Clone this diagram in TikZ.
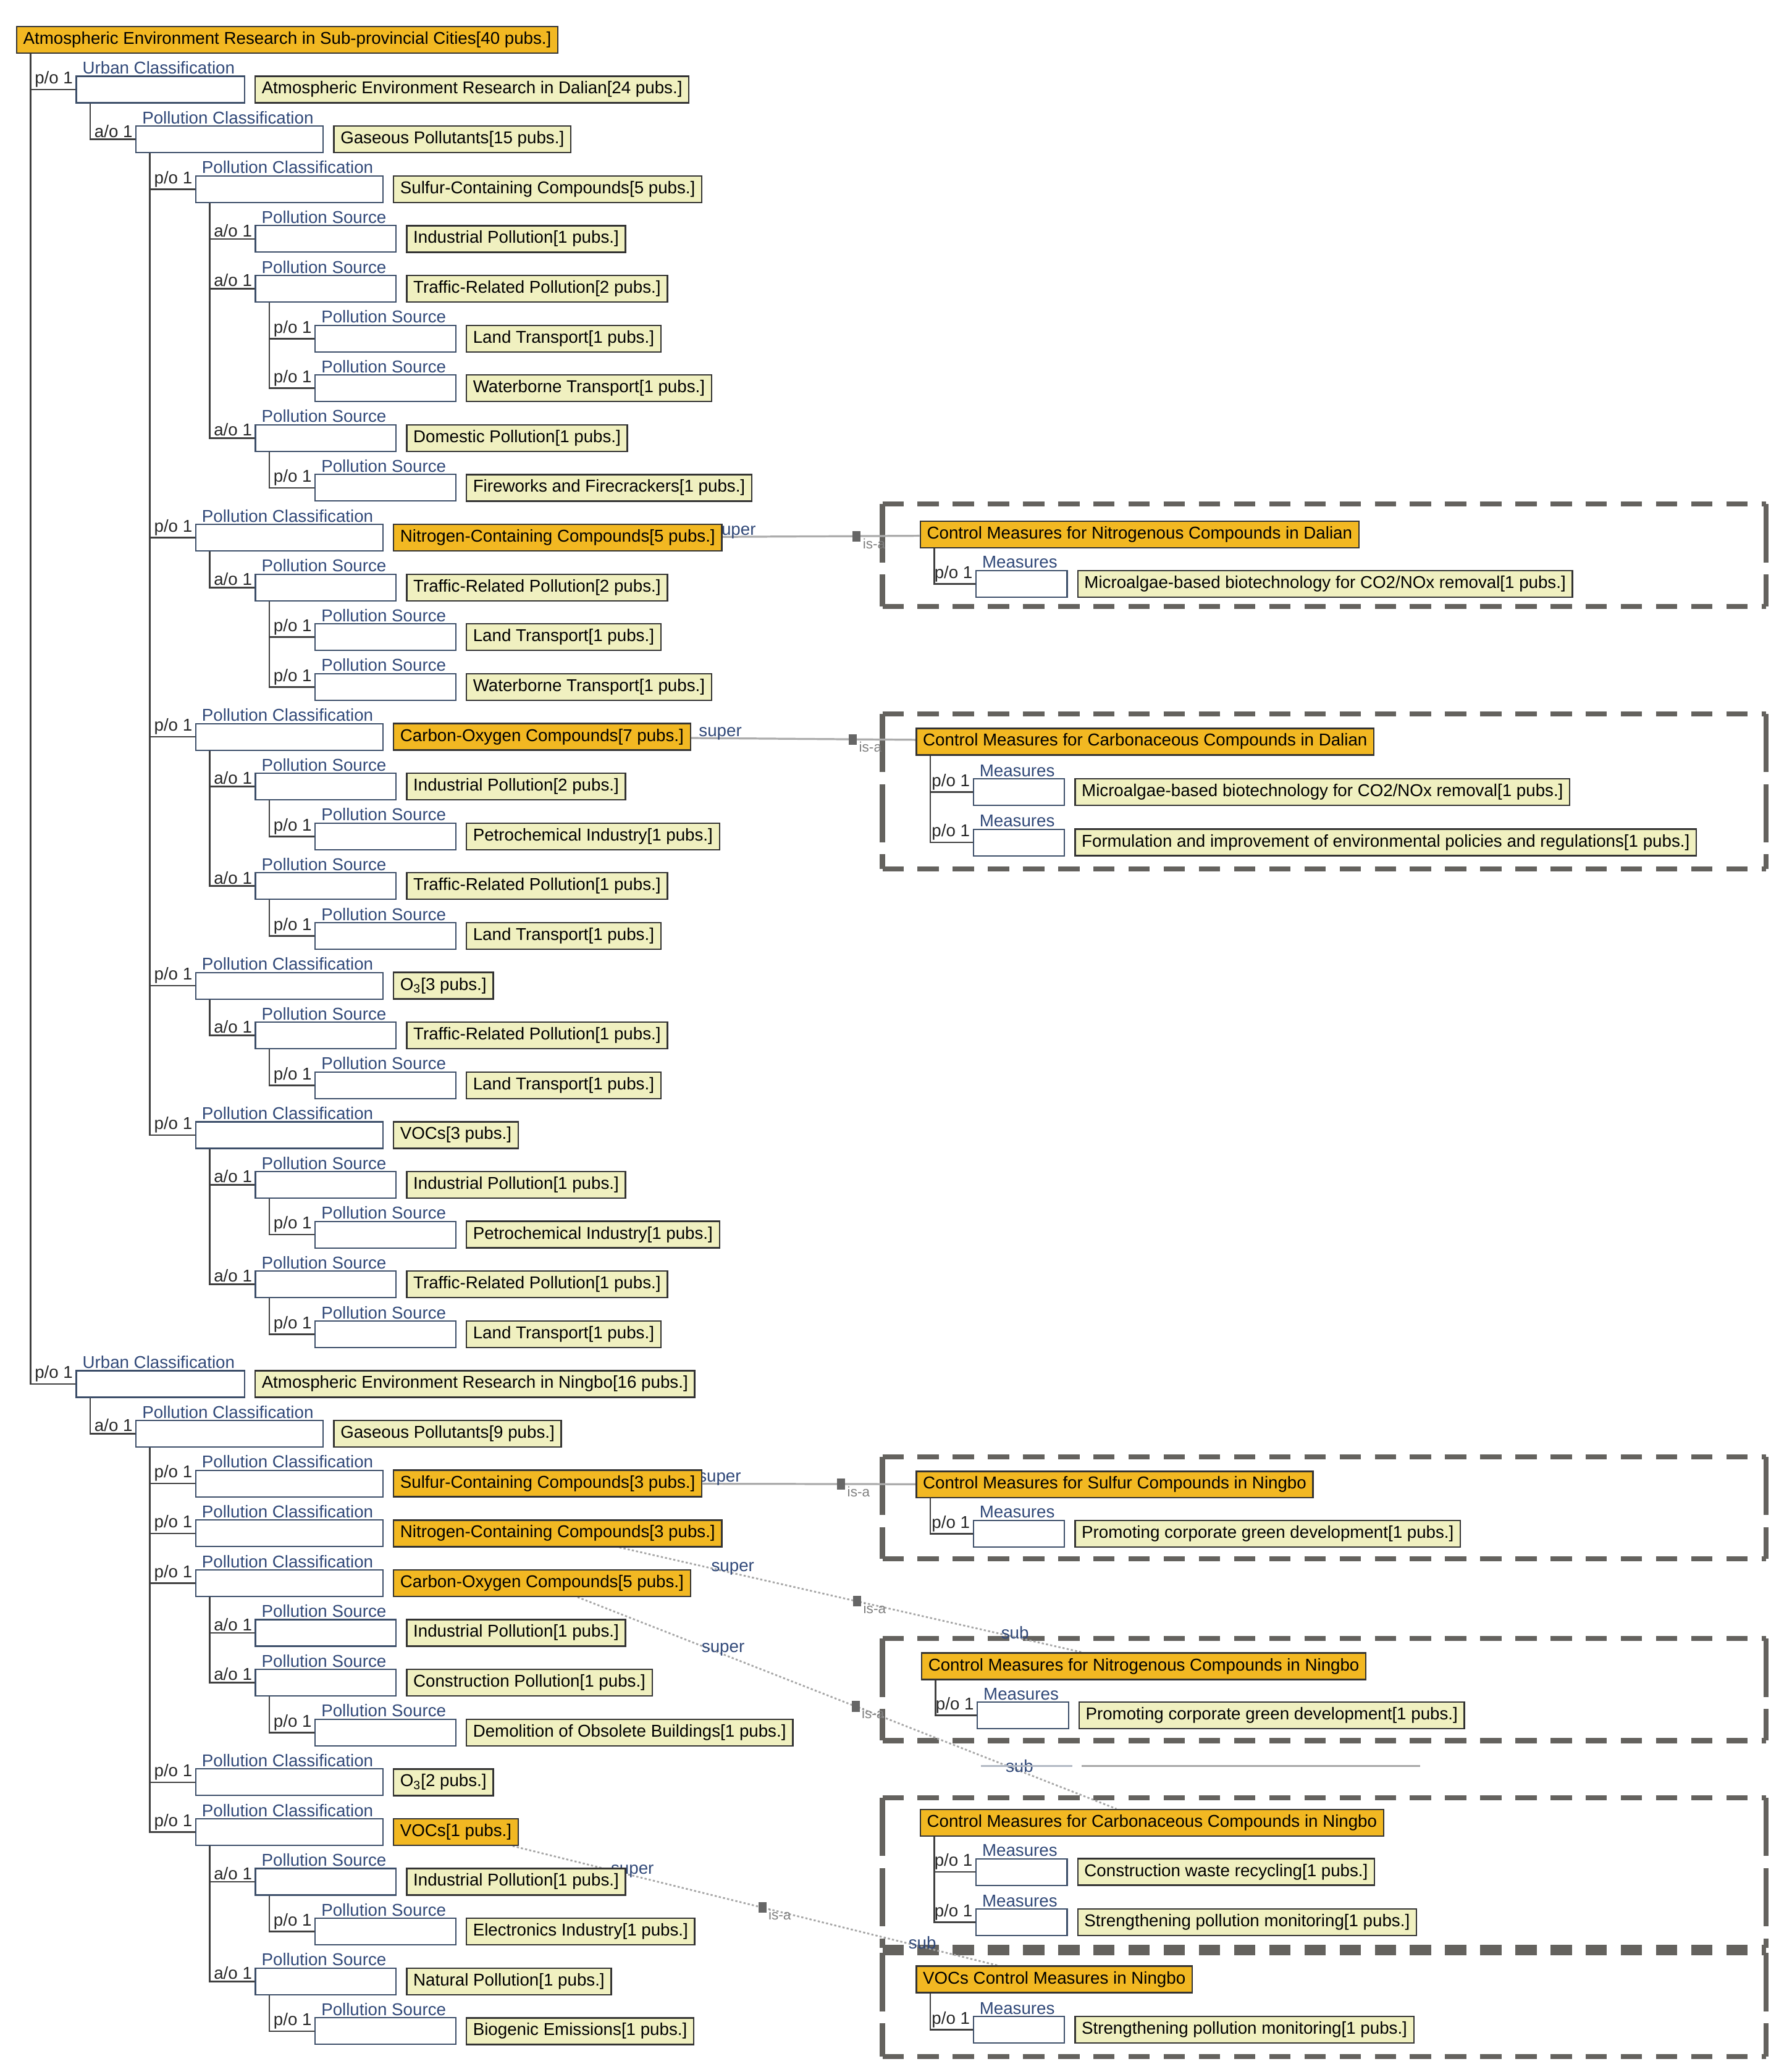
\documentclass[tikz,border=0pt]{standalone}
\usepackage{fontspec}
\setmainfont{Liberation Sans}
\usetikzlibrary{positioning}
\usetikzlibrary{backgrounds}
\definecolor{hotfill}{RGB}{242,184,34}
\definecolor{labfill}{RGB}{240,240,192}
\definecolor{rolefg}{RGB}{48,72,120}
\definecolor{roleline}{RGB}{60,78,105}
\definecolor{framegray}{RGB}{100,98,94}
\newcommand{\treefont}{\fontsize{12.9}{14}\selectfont}
\tikzset{
  lab/.style={draw=black!80, line width=1.1pt, fill=labfill, minimum height=20pt,
    inner xsep=5pt, inner ysep=0pt, text height=9pt, text depth=2.5pt, font=\treefont},
  hot/.style={lab, fill=hotfill},
  rolebox/.style={draw=roleline, line width=1pt, fill=white, minimum height=20pt,
    inner xsep=6pt, inner ysep=0pt, text height=9pt, text depth=2.5pt, font=\treefont, anchor=west},
  rolelab/.style={text=rolefg, font=\treefont, anchor=south west, inner xsep=5pt, inner ysep=1pt},
  rellab/.style={text=black!85, font=\treefont, anchor=south east, inner xsep=1.5pt, inner ysep=1pt},
  tree/.style={draw=black!75, line width=1.2pt},
  framehz/.style={draw=framegray, line width=3.8pt, dash pattern=on 16pt off 10.5pt},
  framevt/.style={draw=framegray, line width=3.8pt, dash pattern=on 44pt off 9pt},
  isalink/.style={draw=gray!65, line width=1.5pt},
  isadot/.style={draw=gray!70, line width=1.3pt, dash pattern=on 1.6pt off 1.6pt},
  superlab/.style={text=rolefg, font=\treefont, anchor=south, inner sep=1pt, yshift=-3pt},
  isamark/.style={fill=black!60, minimum width=6pt, minimum height=8pt, inner sep=0pt},
  isalab/.style={text=gray, font=\fontsize{10.5}{11}\selectfont, anchor=north west, xshift=3pt, inner sep=1pt},
}
% name, parent, x, y, relation, role, style, text
\newcommand{\pubrow}[8]{%
  \node[rolebox] (#1) at (#3,#4) {\phantom{#6}};
  \node[rolelab] (#1r) at (#1.north west) {#6};
  \node[#7, right=7pt of #1] (#1t) {#8};
  \draw[tree] ([xshift=11pt]#2.south west) |- node[rellab, pos=1] {#5} (#1.west);
}
% top, bottom
\newcommand{\ctrlframe}[2]{%
  \draw[framehz] (665,#1) -- (1331,#1) (665,#2) -- (1331,#2);
  \draw[framevt] (665,#1) -- (665,#2) (1331,#1) -- (1331,#2);
}

\begin{document}
\begin{tikzpicture}[x=1pt, y=-1pt]
\useasboundingbox (0,0) rectangle (1350,1561.8);

\begin{scope}[on background layer]
\ctrlframe{380}{457}
\ctrlframe{538}{655}
\ctrlframe{1098}{1175}
\ctrlframe{1235}{1312}
\ctrlframe{1355}{1468}
\ctrlframe{1472}{1550}
\end{scope}

\node[hot, anchor=west] (root) at (12,30) {Atmospheric Environment Research in Sub-provincial Cities[40 pubs.]};

%%%%%%%%%%%%%%%%%%%%%%%%%%%%%%%%%%%%%%%%%%%%%%%%%%%%%%%%%%%%%% Dalian
\pubrow{u1}{root}{57}{67.5}{p/o 1}{Urban Classification}{lab}{Atmospheric Environment Research in Dalian[24 pubs.]}
\pubrow{g1}{u1}{102}{105.1}{a/o 1}{Pollution Classification}{lab}{Gaseous Pollutants[15 pubs.]}

\pubrow{s1}{g1}{147}{142.6}{p/o 1}{Pollution Classification}{lab}{Sulfur-Containing Compounds[5 pubs.]}
\pubrow{s1a}{s1}{192}{180.1}{a/o 1}{Pollution Source}{lab}{Industrial Pollution[1 pubs.]}
\pubrow{s1b}{s1}{192}{217.6}{a/o 1}{Pollution Source}{lab}{Traffic-Related Pollution[2 pubs.]}
\pubrow{s1ba}{s1b}{237}{255.2}{p/o 1}{Pollution Source}{lab}{Land Transport[1 pubs.]}
\pubrow{s1bb}{s1b}{237}{292.7}{p/o 1}{Pollution Source}{lab}{Waterborne Transport[1 pubs.]}
\pubrow{s1c}{s1}{192}{330.2}{a/o 1}{Pollution Source}{lab}{Domestic Pollution[1 pubs.]}
\pubrow{s1ca}{s1c}{237}{367.7}{p/o 1}{Pollution Source}{lab}{Fireworks and Firecrackers[1 pubs.]}

\pubrow{n1}{g1}{147}{405.3}{p/o 1}{Pollution Classification}{hot}{Nitrogen-Containing Compounds[5 pubs.]}
\pubrow{n1a}{n1}{192}{442.8}{a/o 1}{Pollution Source}{lab}{Traffic-Related Pollution[2 pubs.]}
\pubrow{n1aa}{n1a}{237}{480.3}{p/o 1}{Pollution Source}{lab}{Land Transport[1 pubs.]}
\pubrow{n1ab}{n1a}{237}{517.8}{p/o 1}{Pollution Source}{lab}{Waterborne Transport[1 pubs.]}

\pubrow{c1}{g1}{147}{555.4}{p/o 1}{Pollution Classification}{hot}{Carbon-Oxygen Compounds[7 pubs.]}
\pubrow{c1a}{c1}{192}{592.9}{a/o 1}{Pollution Source}{lab}{Industrial Pollution[2 pubs.]}
\pubrow{c1aa}{c1a}{237}{630.4}{p/o 1}{Pollution Source}{lab}{Petrochemical Industry[1 pubs.]}
\pubrow{c1b}{c1}{192}{667.9}{a/o 1}{Pollution Source}{lab}{Traffic-Related Pollution[1 pubs.]}
\pubrow{c1ba}{c1b}{237}{705.5}{p/o 1}{Pollution Source}{lab}{Land Transport[1 pubs.]}

\pubrow{o1}{g1}{147}{743}{p/o 1}{Pollution Classification}{lab}{O\textsubscript{3}[3 pubs.]}
\pubrow{o1a}{o1}{192}{780.5}{a/o 1}{Pollution Source}{lab}{Traffic-Related Pollution[1 pubs.]}
\pubrow{o1aa}{o1a}{237}{818}{p/o 1}{Pollution Source}{lab}{Land Transport[1 pubs.]}

\pubrow{v1}{g1}{147}{855.6}{p/o 1}{Pollution Classification}{lab}{VOCs[3 pubs.]}
\pubrow{v1a}{v1}{192}{893.1}{a/o 1}{Pollution Source}{lab}{Industrial Pollution[1 pubs.]}
\pubrow{v1aa}{v1a}{237}{930.6}{p/o 1}{Pollution Source}{lab}{Petrochemical Industry[1 pubs.]}
\pubrow{v1b}{v1}{192}{968.1}{a/o 1}{Pollution Source}{lab}{Traffic-Related Pollution[1 pubs.]}
\pubrow{v1ba}{v1b}{237}{1005.7}{p/o 1}{Pollution Source}{lab}{Land Transport[1 pubs.]}

%%%%%%%%%%%%%%%%%%%%%%%%%%%%%%%%%%%%%%%%%%%%%%%%%%%%%%%%%%%%%% Ningbo
\pubrow{u2}{root}{57}{1043.2}{p/o 1}{Urban Classification}{lab}{Atmospheric Environment Research in Ningbo[16 pubs.]}
\pubrow{g2}{u2}{102}{1080.7}{a/o 1}{Pollution Classification}{lab}{Gaseous Pollutants[9 pubs.]}
\pubrow{s2}{g2}{147}{1118.2}{p/o 1}{Pollution Classification}{hot}{Sulfur-Containing Compounds[3 pubs.]}
\pubrow{n2}{g2}{147}{1155.8}{p/o 1}{Pollution Classification}{hot}{Nitrogen-Containing Compounds[3 pubs.]}

\pubrow{c2}{g2}{147}{1193.3}{p/o 1}{Pollution Classification}{hot}{Carbon-Oxygen Compounds[5 pubs.]}
\pubrow{c2a}{c2}{192}{1230.8}{a/o 1}{Pollution Source}{lab}{Industrial Pollution[1 pubs.]}
\pubrow{c2b}{c2}{192}{1268.3}{a/o 1}{Pollution Source}{lab}{Construction Pollution[1 pubs.]}
\pubrow{c2ba}{c2b}{237}{1305.9}{p/o 1}{Pollution Source}{lab}{Demolition of Obsolete Buildings[1 pubs.]}

\pubrow{o2}{g2}{147}{1343.4}{p/o 1}{Pollution Classification}{lab}{O\textsubscript{3}[2 pubs.]}

\pubrow{v2}{g2}{147}{1380.9}{p/o 1}{Pollution Classification}{hot}{VOCs[1 pubs.]}
\pubrow{v2a}{v2}{192}{1418.4}{a/o 1}{Pollution Source}{lab}{Industrial Pollution[1 pubs.]}
\pubrow{v2aa}{v2a}{237}{1456}{p/o 1}{Pollution Source}{lab}{Electronics Industry[1 pubs.]}
\pubrow{v2b}{v2}{192}{1493.5}{a/o 1}{Pollution Source}{lab}{Natural Pollution[1 pubs.]}
\pubrow{v2ba}{v2b}{237}{1531}{p/o 1}{Pollution Source}{lab}{Biogenic Emissions[1 pubs.]}

%%%%%%%%%%%%%%%%%%%%%%%%%%%%%%%%%%%%%%%%%%%%%%%%%%%%%%%%%%%%%% control measures
\node[hot, anchor=west] (cmA) at (693,403) {Control Measures for Nitrogenous Compounds in Dalian};
\pubrow{mA1}{cmA}{735}{440}{p/o 1}{Measures}{lab}{Microalgae-based biotechnology for CO2/NOx removal[1 pubs.]}

\node[hot, anchor=west] (cmB) at (690,559) {Control Measures for Carbonaceous Compounds in Dalian};
\pubrow{mB1}{cmB}{733}{597}{p/o 1}{Measures}{lab}{Microalgae-based biotechnology for CO2/NOx removal[1 pubs.]}
\pubrow{mB2}{cmB}{733}{635}{p/o 1}{Measures}{lab}{Formulation and improvement of environmental policies and regulations[1 pubs.]}

\node[hot, anchor=west] (cmC) at (690,1119) {Control Measures for Sulfur Compounds in Ningbo};
\pubrow{mC1}{cmC}{733}{1156}{p/o 1}{Measures}{lab}{Promoting corporate green development[1 pubs.]}

\node[hot, anchor=west] (cmD) at (694,1256) {Control Measures for Nitrogenous Compounds in Ningbo};
\pubrow{mD1}{cmD}{736}{1293}{p/o 1}{Measures}{lab}{Promoting corporate green development[1 pubs.]}

\node[hot, anchor=west] (cmE) at (693,1374) {Control Measures for Carbonaceous Compounds in Ningbo};
\pubrow{mE1}{cmE}{735}{1411}{p/o 1}{Measures}{lab}{Construction waste recycling[1 pubs.]}
\pubrow{mE2}{cmE}{735}{1449}{p/o 1}{Measures}{lab}{Strengthening pollution monitoring[1 pubs.]}

\node[hot, anchor=west] (cmF) at (690,1492) {VOCs Control Measures in Ningbo};
\pubrow{mF1}{cmF}{733}{1530}{p/o 1}{Measures}{lab}{Strengthening pollution monitoring[1 pubs.]}

\draw[draw=roleline!40, line width=1.5pt] (739,1331) -- (808,1331);
\draw[draw=gray!70, line width=1.5pt] (815,1331) -- (1070,1331);

%%%%%%%%%%%%%%%%%%%%%%%%%%%%%%%%%%%%%%%%%%%%%%%%%%%%%%%%%%%%%% is-a links
\begin{scope}[on background layer]
\draw[isalink] (n1t) -- node[superlab, pos=.06] {super} node[isamark, pos=.68] {} node[isalab, pos=.68] {is-a} (cmA);
\draw[isalink] (c1t) -- node[superlab, pos=.13] {super} node[isamark, pos=.72] {} node[isalab, pos=.72] {is-a} (cmB);
\draw[isalink] (s2t) -- node[superlab, pos=.08] {super} node[isamark, pos=.65] {} node[isalab, pos=.65] {is-a} (cmC);
\draw[isadot] (n2t) -- node[superlab, pos=.245] {super} node[isamark, pos=.514] {} node[isalab, pos=.514] {is-a}
  node[superlab, pos=.855] {sub} (cmD);
\draw[isadot] (c2t) -- node[superlab, pos=.27] {super} node[isamark, pos=.516] {} node[isalab, pos=.516] {is-a}
  node[superlab, pos=.82] {sub} (cmE);
\draw[isadot] (v2t) -- node[superlab, pos=.247] {super} node[isamark, pos=.515] {} node[isalab, pos=.515] {is-a}
  node[superlab, pos=.845] {sub} (cmF);
\end{scope}

\end{tikzpicture}
\end{document}
